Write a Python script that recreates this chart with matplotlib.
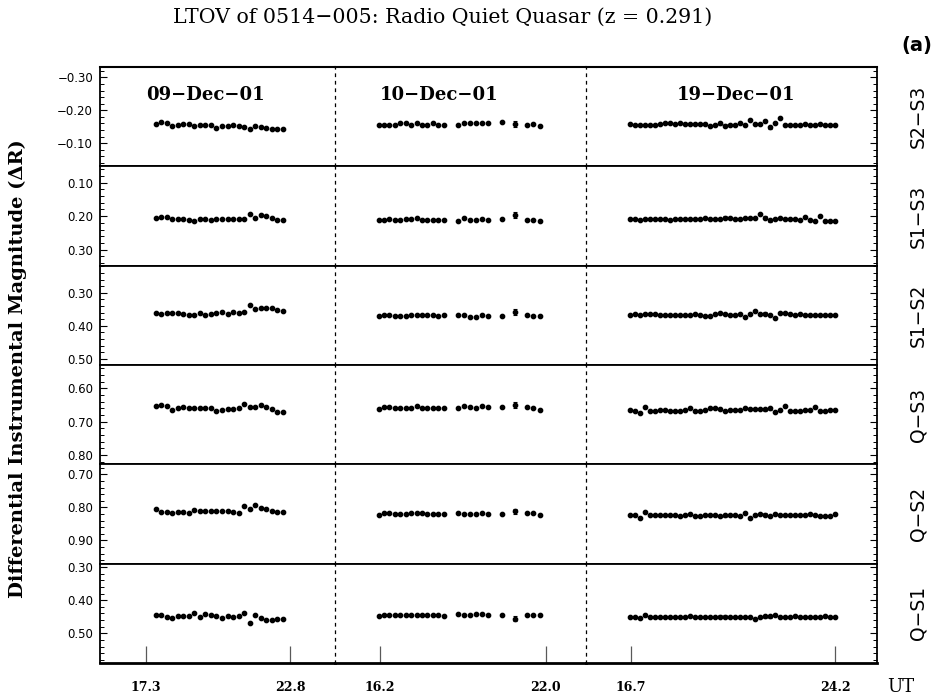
import numpy as np
import matplotlib.pyplot as plt
from matplotlib.ticker import MultipleLocator, FuncFormatter

# observing nights and comparison pairs
nights = ['09\u2212Dec\u221201', '10\u2212Dec\u221201', '19\u2212Dec\u221201']
pairs = ['S2\u2212S3', 'S1\u2212S3', 'S1\u2212S2', 'Q\u2212S3', 'Q\u2212S2', 'Q\u2212S1']

# UT hours of each frame
t_09 = [17.68, 17.89, 18.10, 18.31, 18.52, 18.73, 18.94, 19.15, 19.36, 19.57, 19.78, 19.99,
        20.20, 20.42, 20.63, 20.84, 21.05, 21.26, 21.47, 21.68, 21.89, 22.10, 22.31, 22.52]
t_10 = [16.15, 16.34, 16.53, 16.72, 16.91, 17.10, 17.29, 17.48, 17.67, 17.86, 18.05, 18.24,
        18.43, 18.93, 19.14, 19.35, 19.56, 19.77, 19.98, 20.47, 20.93, 21.34, 21.56, 21.80]
t_19 = [16.66, 16.84, 17.03, 17.21, 17.39, 17.58, 17.76, 17.95, 18.13, 18.31, 18.50, 18.68,
        18.87, 19.05, 19.23, 19.42, 19.60, 19.79, 19.97, 20.15, 20.34, 20.52, 20.71, 20.89,
        21.07, 21.26, 21.44, 21.63, 21.81, 21.99, 22.18, 22.36, 22.55, 22.73, 22.91, 23.10,
        23.28, 23.47, 23.65, 23.83, 24.02, 24.20]

# photometric errors
err_09 = [0.002, 0.002, 0.002, 0.002, 0.002, 0.002, 0.002, 0.002, 0.002, 0.002, 0.002, 0.002,
          0.002, 0.002, 0.002, 0.002, 0.002, 0.002, 0.002, 0.002, 0.002, 0.002, 0.002, 0.002]
err_10 = [0.002, 0.002, 0.002, 0.002, 0.002, 0.002, 0.002, 0.002, 0.002, 0.002, 0.002, 0.002,
          0.002, 0.002, 0.002, 0.002, 0.002, 0.002, 0.002, 0.002, 0.008, 0.002, 0.002, 0.003]
err_19 = [0.002, 0.002, 0.002, 0.002, 0.002, 0.002, 0.002, 0.002, 0.002, 0.002, 0.002, 0.002,
          0.002, 0.002, 0.002, 0.002, 0.002, 0.002, 0.004, 0.004, 0.003, 0.002, 0.002, 0.002,
          0.002, 0.002, 0.002, 0.004, 0.004, 0.002, 0.002, 0.002, 0.002, 0.002, 0.002, 0.002,
          0.002, 0.002, 0.002, 0.002, 0.002, 0.002]

# 09-Dec-01
s2s3_09 = [-0.157, -0.163, -0.160, -0.153, -0.154, -0.157, -0.157, -0.153, -0.154, -0.155, -0.155, -0.147,
           -0.151, -0.151, -0.155, -0.152, -0.149, -0.143, -0.152, -0.148, -0.146, -0.143, -0.143, -0.143]
s1s3_09 = [0.206, 0.203, 0.203, 0.208, 0.208, 0.207, 0.210, 0.214, 0.208, 0.209, 0.211, 0.208,
           0.209, 0.208, 0.207, 0.207, 0.207, 0.195, 0.205, 0.197, 0.200, 0.206, 0.210, 0.211]
s1s2_09 = [0.362, 0.365, 0.361, 0.361, 0.362, 0.363, 0.366, 0.366, 0.362, 0.366, 0.364, 0.362,
           0.358, 0.364, 0.357, 0.361, 0.359, 0.338, 0.350, 0.345, 0.345, 0.347, 0.352, 0.355]
qs3_09 = [0.652, 0.649, 0.652, 0.665, 0.660, 0.656, 0.660, 0.660, 0.660, 0.658, 0.658, 0.667,
          0.665, 0.662, 0.662, 0.660, 0.647, 0.657, 0.655, 0.649, 0.655, 0.662, 0.670, 0.672]
qs2_09 = [0.806, 0.813, 0.813, 0.816, 0.814, 0.814, 0.818, 0.808, 0.812, 0.812, 0.812, 0.812,
          0.812, 0.812, 0.813, 0.818, 0.797, 0.805, 0.794, 0.801, 0.805, 0.812, 0.815, 0.815]
qs1_09 = [0.445, 0.446, 0.450, 0.455, 0.449, 0.449, 0.449, 0.440, 0.450, 0.443, 0.446, 0.448,
          0.453, 0.448, 0.451, 0.449, 0.438, 0.468, 0.446, 0.454, 0.459, 0.459, 0.457, 0.456]

# 10-Dec-01
s2s3_10 = [-0.156, -0.155, -0.156, -0.156, -0.161, -0.161, -0.156, -0.160, -0.156, -0.156, -0.160, -0.156,
           -0.156, -0.154, -0.160, -0.160, -0.160, -0.160, -0.160, -0.163, -0.158, -0.156, -0.158, -0.153]
s1s3_10 = [0.210, 0.210, 0.207, 0.210, 0.210, 0.208, 0.208, 0.206, 0.210, 0.210, 0.210, 0.210,
           0.210, 0.213, 0.205, 0.210, 0.212, 0.207, 0.210, 0.209, 0.197, 0.210, 0.210, 0.213]
s1s2_10 = [0.370, 0.367, 0.366, 0.370, 0.371, 0.370, 0.367, 0.367, 0.367, 0.368, 0.369, 0.372,
           0.367, 0.369, 0.369, 0.373, 0.373, 0.368, 0.371, 0.372, 0.358, 0.368, 0.371, 0.371]
qs3_10 = [0.662, 0.657, 0.655, 0.660, 0.660, 0.660, 0.659, 0.654, 0.659, 0.659, 0.660, 0.660,
          0.660, 0.659, 0.654, 0.657, 0.658, 0.654, 0.656, 0.657, 0.650, 0.657, 0.658, 0.665]
qs2_10 = [0.822, 0.817, 0.816, 0.820, 0.821, 0.821, 0.818, 0.817, 0.818, 0.819, 0.821, 0.821,
          0.820, 0.817, 0.819, 0.820, 0.820, 0.818, 0.820, 0.821, 0.812, 0.817, 0.818, 0.822]
qs1_10 = [0.447, 0.444, 0.444, 0.446, 0.446, 0.446, 0.446, 0.446, 0.446, 0.445, 0.446, 0.446,
          0.447, 0.443, 0.445, 0.444, 0.443, 0.442, 0.444, 0.446, 0.456, 0.445, 0.444, 0.446]

# 19-Dec-01
s2s3_19 = [-0.157, -0.156, -0.156, -0.155, -0.155, -0.155, -0.157, -0.160, -0.160, -0.157, -0.160, -0.158,
           -0.158, -0.158, -0.158, -0.158, -0.152, -0.155, -0.160, -0.153, -0.156, -0.156, -0.160, -0.156,
           -0.171, -0.157, -0.157, -0.167, -0.148, -0.160, -0.176, -0.155, -0.155, -0.154, -0.155, -0.159,
           -0.155, -0.155, -0.159, -0.155, -0.155, -0.155]
s1s3_19 = [0.208, 0.207, 0.210, 0.209, 0.209, 0.209, 0.209, 0.209, 0.210, 0.209, 0.209, 0.208,
           0.207, 0.208, 0.208, 0.205, 0.209, 0.209, 0.208, 0.204, 0.204, 0.208, 0.208, 0.206,
           0.205, 0.206, 0.195, 0.204, 0.212, 0.208, 0.206, 0.208, 0.208, 0.209, 0.210, 0.203,
           0.212, 0.213, 0.200, 0.213, 0.213, 0.213]
s1s2_19 = [0.366, 0.363, 0.366, 0.363, 0.365, 0.365, 0.368, 0.368, 0.368, 0.368, 0.368, 0.368,
           0.368, 0.365, 0.368, 0.370, 0.370, 0.363, 0.361, 0.364, 0.366, 0.368, 0.363, 0.373,
           0.363, 0.356, 0.365, 0.363, 0.368, 0.377, 0.362, 0.362, 0.364, 0.368, 0.363, 0.367,
           0.368, 0.368, 0.366, 0.366, 0.366, 0.366]
qs3_19 = [0.665, 0.667, 0.675, 0.656, 0.667, 0.669, 0.664, 0.664, 0.667, 0.667, 0.667, 0.664,
          0.658, 0.668, 0.668, 0.665, 0.660, 0.660, 0.662, 0.668, 0.665, 0.665, 0.666, 0.658,
          0.661, 0.661, 0.663, 0.663, 0.660, 0.672, 0.664, 0.653, 0.667, 0.667, 0.668, 0.666,
          0.664, 0.657, 0.667, 0.667, 0.664, 0.664]
qs2_19 = [0.824, 0.824, 0.831, 0.813, 0.824, 0.824, 0.824, 0.824, 0.824, 0.824, 0.827, 0.824,
          0.820, 0.827, 0.827, 0.822, 0.822, 0.824, 0.826, 0.824, 0.824, 0.824, 0.827, 0.817,
          0.832, 0.824, 0.821, 0.822, 0.826, 0.820, 0.824, 0.824, 0.824, 0.824, 0.822, 0.822,
          0.820, 0.824, 0.825, 0.825, 0.825, 0.821]
qs1_19 = [0.452, 0.452, 0.455, 0.445, 0.452, 0.452, 0.451, 0.451, 0.451, 0.450, 0.452, 0.451,
          0.449, 0.452, 0.452, 0.450, 0.450, 0.450, 0.450, 0.450, 0.452, 0.452, 0.451, 0.450,
          0.451, 0.457, 0.450, 0.449, 0.449, 0.445, 0.452, 0.452, 0.452, 0.448, 0.450, 0.450,
          0.450, 0.450, 0.450, 0.448, 0.452, 0.450]

times = [t_09, t_10, t_19]
errs = [err_09, err_10, err_19]
rows = [[s2s3_09, s2s3_10, s2s3_19],
        [s1s3_09, s1s3_10, s1s3_19],
        [s1s2_09, s1s2_10, s1s2_19],
        [qs3_09, qs3_10, qs3_19],
        [qs2_09, qs2_10, qs2_19],
        [qs1_09, qs1_10, qs1_19]]

ut_ticks = [[17.3, 22.8], [16.2, 22.0], [16.7, 24.2]]
ut_labels = [['17.3', '22.8'], ['16.2', '22.0'], ['16.7', '24.2']]

# axis windows
x_lo = [15.54, 14.63, 15.05]
x_hi = [24.52, 23.40, 25.74]
y_top = [-0.332, 0.051, 0.218, 0.530, 0.670, 0.290]
y_bot = [-0.029, 0.348, 0.519, 0.828, 0.970, 0.589]

fig = plt.figure(figsize=(9.43, 6.95), dpi=100)
gs = fig.add_gridspec(6, 3, left=100/943, right=877/943, top=1-67/695, bottom=1-663/695,
                      hspace=0, wspace=0, width_ratios=[235, 251, 291])

fmt = FuncFormatter(lambda v, p: f'{v:.2f}'.replace('-', '\u2212'))

for r in range(6):
    for c in range(3):
        ax = fig.add_subplot(gs[r, c])
        ax.errorbar(times[c], rows[r][c], yerr=errs[c], fmt='o', color='k', ms=3.1,
                    elinewidth=0.8, capsize=1.3, capthick=0.8)
        ax.set_xlim(x_lo[c], x_hi[c])
        ax.set_ylim(y_bot[r], y_top[r])
        ax.yaxis.set_major_locator(MultipleLocator(0.1))
        ax.yaxis.set_minor_locator(MultipleLocator(0.02))
        ax.yaxis.set_major_formatter(fmt)

        for s in ax.spines.values():
            s.set_linewidth(1.3)
        ax.spines['top'].set_linewidth(1.5 if r == 0 else 1.3)
        ax.spines['bottom'].set_linewidth(2.0 if r == 5 else 1.3)
        if c > 0:
            ax.spines['left'].set_linestyle((0, (2, 4)))
            ax.spines['left'].set_linewidth(0.9)
        if c < 2:
            ax.spines['right'].set_visible(False)

        if c == 0:
            ax.tick_params(axis='y', which='both', direction='in', left=True, right=False,
                           labelleft=True, labelsize=8.5, pad=5)
        elif c == 2:
            ax.tick_params(axis='y', which='both', direction='in', left=False, right=True,
                           labelleft=False)
        else:
            ax.tick_params(axis='y', which='both', left=False, right=False, labelleft=False)
        ax.tick_params(axis='y', which='major', length=5, width=0.8)
        ax.tick_params(axis='y', which='minor', length=2.8, width=0.7)

        if r == 5:
            ax.set_xticks(ut_ticks[c])
            ax.set_xticklabels(ut_labels[c], family='DejaVu Serif', weight='bold')
            ax.tick_params(axis='x', direction='in', length=12, width=0.9, color='0.35',
                           pad=13, labelsize=9)
        else:
            ax.set_xticks([])

        if r == 0:
            ax.text([0.447, 0.416, 0.515][c], 0.717, nights[c], transform=ax.transAxes,
                    ha='center', va='center', family='DejaVu Serif', weight='bold', size=13)
        if c == 2:
            ax.text(1 + 41/291, 0.5, pairs[r], transform=ax.transAxes, rotation=90,
                    ha='center', va='center', family='DejaVu Sans', size=13.5)

fig.text(0.469, 0.975, 'LTOV of 0514\u2212005: Radio Quiet Quasar (z = 0.291)',
         ha='center', va='center', family='DejaVu Serif', weight='medium', size=14.8)
fig.text(0.972, 0.935, '(a)', ha='center', va='center', family='DejaVu Sans',
         weight='bold', size=14)
fig.text(0.019, 0.469, 'Differential Instrumental Magnitude (\u0394R)', rotation=90,
         ha='center', va='center', family='DejaVu Serif', weight='bold', size=14)
fig.text(0.955, 0.0115, 'UT', ha='center', va='center', family='DejaVu Serif', size=13)

fig.savefig('out.png', dpi=100)
